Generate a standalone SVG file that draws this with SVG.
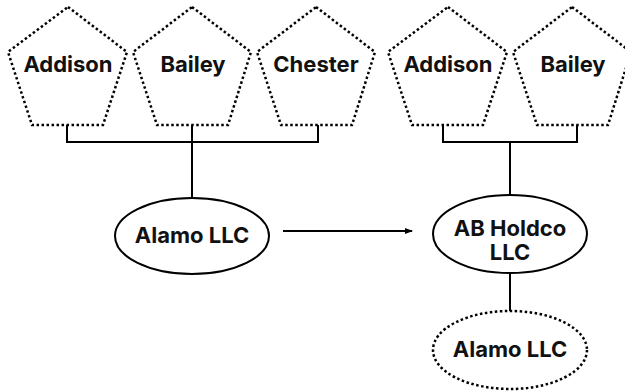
<svg xmlns="http://www.w3.org/2000/svg" width="625" height="392" viewBox="0 0 625 392">
<style>
.pent{fill:none;stroke:#000;stroke-width:2.5;stroke-dasharray:2.5 2.5}
.ell{fill:#fff;stroke:#000;stroke-width:2}
.dot{fill:#fff;stroke:#000;stroke-width:2.5;stroke-dasharray:2.5 2.5}
.lbl{font-family:Inter,"Liberation Sans",sans-serif;font-weight:700;font-size:22px;fill:#111;text-anchor:middle}
.con{fill:none;stroke:#000;stroke-width:2}
</style>
<defs>
<marker id="ah" markerWidth="8" markerHeight="8" refX="7" refY="4" orient="auto" markerUnits="userSpaceOnUse">
<path d="M0,1 L8,4 L0,7 Z" fill="#000"/>
</marker>
</defs>
<g id="connectors">
<path class="con" d="M67,125 V142 H318 V125 M192,125 V198"/>
<path class="con" d="M443,125 V142 H577 V125 M510,142 V196"/>
<path class="con" d="M510,273 V311"/>
<line class="con" x1="283" y1="231" x2="412" y2="231" marker-end="url(#ah)"/>
</g>
<g id="addison1">
<polygon class="pent" points="68,7 127,52 103,125 32,125 8,52"/>
<text class="lbl" x="68" y="72">Addison</text>
</g>
<g id="bailey1">
<polygon class="pent" points="192,7 251,52 228,125 157,125 133,52"/>
<text class="lbl" x="193" y="72">Bailey</text>
</g>
<g id="chester">
<polygon class="pent" points="316,7 375,52 352,125 281,125 257,52"/>
<text class="lbl" x="316" y="72">Chester</text>
</g>
<g id="addison2">
<polygon class="pent" points="448,7 507,52 483,125 412,125 388,52"/>
<text class="lbl" x="448" y="72">Addison</text>
</g>
<g id="bailey2">
<polygon class="pent" points="572,7 631,52 608,125 537,125 513,52"/>
<text class="lbl" x="573" y="72">Bailey</text>
</g>
<g id="alamo1">
<ellipse class="ell" cx="192" cy="236" rx="77" ry="38"/>
<text class="lbl" x="192" y="243">Alamo LLC</text>
</g>
<g id="abholdco">
<ellipse class="ell" cx="510" cy="234" rx="77" ry="39"/>
<text class="lbl" x="510" y="236">AB Holdco</text>
<text class="lbl" x="510" y="260">LLC</text>
</g>
<g id="alamo2">
<ellipse class="dot" cx="510" cy="350" rx="77" ry="39"/>
<text class="lbl" x="510" y="357">Alamo LLC</text>
</g>
</svg>
